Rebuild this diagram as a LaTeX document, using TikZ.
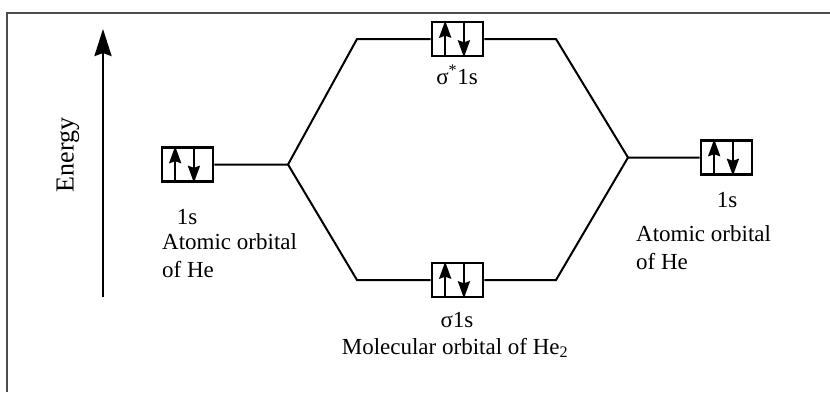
\documentclass[tikz,border=0pt]{standalone}
\usepackage{fontspec}
\setmainfont{Liberation Serif}
\usetikzlibrary{arrows.meta,calc}

\tikzset{
  orb/.style={draw, line width=2.6pt, minimum width=51pt, minimum height=34pt, inner sep=0pt},
  spin/.style={line width=2.4pt, -{Stealth[length=17pt,width=12pt,inset=2pt]}},
  lvl/.style={line width=2pt, line join=miter},
  lbl/.style={font=\fontsize{23}{28}\selectfont, inner sep=0pt},
}

% 一对自旋箭头：左上、右下
\newcommand{\spins}[1]{%
  \draw[spin] ($(#1.south west)!0.27!(#1.south east)$) -- ($(#1.north west)!0.27!(#1.north east)$);
  \draw[spin] ($(#1.north west)!0.62!(#1.north east)$) -- ($(#1.south west)!0.62!(#1.south east)$);
}

\begin{document}
\begin{tikzpicture}[x=1pt, y=-1pt]

  %% ════ 外框（只露出上、左两边）════
  \draw[line width=2pt, draw=black!70] (7,392) -- (7,13) -- (830,13);

  %% ════ 能量轴 ════
  \coordinate (eLow) at (103,297);
  \coordinate (eHigh) at (103,29);
  \draw[line width=2.6pt, -{Stealth[length=27pt,width=17pt,inset=3pt]}] (eLow) -- (eHigh);
  \node[lbl, font=\fontsize{26}{28}\selectfont, rotate=90] (energy) at (68,155) {Energy};

  %% ════ 轨道方框 ════
  \node[orb] (aoL)    at (187.5,164.5) {};
  \node[orb] (aoR)    at (726.5,157.5) {};
  \node[orb] (moStar) at (457.5,39) {};
  \node[orb] (moSig)  at (457.5,280) {};
  \spins{aoL}
  \spins{aoR}
  \spins{moStar}
  \spins{moSig}

  %% ════ 能级连线 ════
  \coordinate (jL) at (288,164.5);
  \coordinate (jR) at (628,157.5);
  \coordinate (tL) at (357,39);
  \coordinate (tR) at (556,39);
  \coordinate (bL) at (357,280);
  \coordinate (bR) at (556,280);
  \draw[lvl] (aoL.east) -- (jL) -- (tL) -- (moStar.west);
  \draw[lvl] (jL) -- (bL) -- (moSig.west);
  \draw[lvl] (moStar.east) -- (tR) -- (jR) -- (aoR.west);
  \draw[lvl] (moSig.east) -- (bR) -- (jR);

  %% ════ 标签 ════
  \node[lbl] (sL) at (187,217) {1s};
  \node[lbl, anchor=west] (atL) at (162,242) {Atomic orbital};
  \node[lbl, anchor=west] (heL) at (162,270) {of He};
  \node[lbl] (sR) at (727,200) {1s};
  \node[lbl, anchor=west] (atR) at (636,234) {Atomic orbital};
  \node[lbl, anchor=west] (heR) at (636,262) {of He};
  \node[lbl] (sStar) at (457,75) {σ\textsuperscript{*}1s};
  \node[lbl] (sSig) at (457,320) {σ1s};
  \node[lbl] (mol) at (455,348) {Molecular orbital of He\textsubscript{2}};

  \pgfresetboundingbox
  \path[use as bounding box] (0,0) rectangle (830,392);
\end{tikzpicture}
\end{document}
